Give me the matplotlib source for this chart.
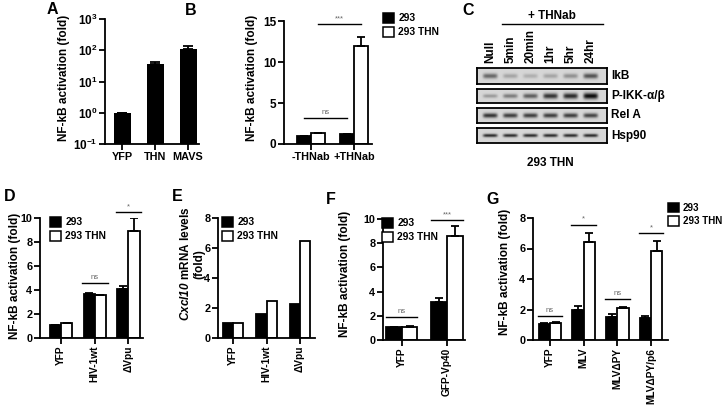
import numpy as np
import matplotlib
import matplotlib.pyplot as plt
from matplotlib.patches import Patch
from matplotlib.lines import Line2D

# ---------------------------------------------------------------------
# Data
# ---------------------------------------------------------------------

W, H = 725, 405

a_labels = ["YFP", "THN", "MAVS"]
a_values = [1.0, 36, 110]
a_err = [0, 6, 30]

b_groups = ["-THNab", "+THNab"]
b_293 = [1.0, 1.2]
b_thn = [1.3, 12.0]
b_293_err = [0, 0]
b_thn_err = [0, 1.0]
b_sig_series = ["293", "THN"]
b_sig_y = [3.2, 14.6]
b_sig_text = ["ns", "***"]

c_lanes = ["Null", "5min", "20min", "1hr", "5hr", "24hr"]
c_rows = ["IkB", "P-IKK-α/β", "Rel A", "Hsp90"]
c_ikb = [0.55, 0.25, 0.2, 0.25, 0.35, 0.65]
c_pikk = [0.3, 0.45, 0.6, 0.8, 0.85, 1.0]
c_rela = [0.8, 0.75, 0.75, 0.75, 0.75, 0.72]
c_hsp90 = [0.85, 0.85, 0.85, 0.85, 0.85, 0.85]

d_labels = ["YFP", "HIV-1wt", "ΔVpu"]
d_293 = [1.05, 3.65, 4.1]
d_293_err = [0.05, 0.07, 0.25]
d_thn = [1.25, 3.55, 8.9]
d_thn_err = [0.03, 0.05, 1.1]
d_sig_groups = [1, 2]
d_sig_y = [4.6, 10.5]
d_sig_text = ["ns", "*"]

e_labels = ["YFP", "HIV-1wt", "ΔVpu"]
e_293 = [1.0, 1.6, 2.25]
e_thn = [1.0, 2.45, 6.5]

f_labels = ["YFP", "GFP-Vp40"]
f_293 = [1.05, 3.15]
f_293_err = [0.03, 0.3]
f_thn = [1.1, 8.6]
f_thn_err = [0.05, 0.8]
f_sig_groups = [0, 1]
f_sig_y = [1.9, 9.9]
f_sig_text = ["ns", "***"]

g_labels = ["YFP", "MLV", "MLVΔPY", "MLVΔPY/p6"]
g_293 = [1.05, 2.0, 1.5, 1.45]
g_293_err = [0.05, 0.25, 0.2, 0.15]
g_thn = [1.1, 6.45, 2.1, 5.85]
g_thn_err = [0.07, 0.55, 0.07, 0.65]
g_sig_groups = [0, 1, 2, 3]
g_sig_y = [1.6, 7.55, 2.7, 7.0]
g_sig_text = ["ns", "*", "ns", "*"]

# ---------------------------------------------------------------------
# Style
# ---------------------------------------------------------------------

plt.rcParams["font.family"] = ["Liberation Sans", "DejaVu Sans"]
plt.rcParams["font.weight"] = "bold"
plt.rcParams["axes.labelweight"] = "bold"
plt.rcParams["mathtext.fontset"] = "custom"
plt.rcParams["mathtext.rm"] = "Liberation Sans"
plt.rcParams["mathtext.bf"] = "Liberation Sans:bold"
plt.rcParams["mathtext.it"] = "Liberation Sans:italic"
plt.rcParams["mathtext.bfit"] = "Liberation Sans:italic:bold"

LW = 1.3
FS = 8.5        # axis labels
FS_TICK = 7.8
FS_ROT = 7.3    # rotated category labels
FS_LEG = 7.4


# ---------------------------------------------------------------------
# Helpers
# ---------------------------------------------------------------------

def px_axes(fig, left, top, right, bottom):
    return fig.add_axes([left / W, 1 - bottom / H, (right - left) / W, (bottom - top) / H])


def fxy(x, y):
    return x / W, 1 - y / H


def style_axes(ax):
    for s in ["top", "right"]:
        ax.spines[s].set_visible(False)
    for s in ["left", "bottom"]:
        ax.spines[s].set_linewidth(LW)
    ax.tick_params(direction="out", length=4, width=LW, labelsize=FS_TICK, pad=1.5)


def grouped_bars(ax, v293, vthn, width, e293=None, ethn=None):
    n = len(v293)
    x = np.arange(n)
    ax.bar(x - width / 2, v293, width, color="black", edgecolor="black", linewidth=LW, zorder=2)
    ax.bar(x + width / 2, vthn, width, color="white", edgecolor="black", linewidth=LW, zorder=2)
    for xs, vals, err in [(x - width / 2, v293, e293), (x + width / 2, vthn, ethn)]:
        if err is None:
            continue
        ax.errorbar(xs, vals, yerr=[np.zeros(n), err], fmt="none", ecolor="black",
                    elinewidth=LW, capsize=3, capthick=LW, zorder=3)


def sig_mark(ax, x0, x1, y, text):
    ax.plot([x0, x1], [y, y], color="black", lw=1.0, clip_on=False, zorder=4)
    ax.annotate(text, ((x0 + x1) / 2, y), xytext=(0, 1.5), textcoords="offset points",
                ha="center", va="bottom", fontsize=5.5, color="#666666",
                fontweight="normal", annotation_clip=False)


def add_legend(ax, fig, x, y, fs=FS_LEG):
    handles = [Patch(facecolor="black", edgecolor="black", linewidth=1.1),
               Patch(facecolor="white", edgecolor="black", linewidth=1.1)]
    ax.legend(handles, ["293", "293 THN"], loc="upper left", bbox_to_anchor=fxy(x, y),
              bbox_transform=fig.transFigure, frameon=False, fontsize=fs,
              handlelength=1.1, handleheight=1.1, handletextpad=0.4,
              labelspacing=0.35, borderpad=0, borderaxespad=0)


def ylabel(fig, x, y, text, **kw):
    fig.text(*fxy(x, y), text, rotation=90, ha="center", va="center",
             fontsize=FS, fontweight="bold", **kw)


def letter(fig, x, y, text):
    fig.text(*fxy(x, y), text, ha="left", va="top", fontsize=11.5, fontweight="bold")


def blot_strip(ax, intensities, base, grow):
    xs = np.linspace(-0.65, 5.8, 300)
    ys = np.linspace(0, 1, 40)
    X, Y = np.meshgrid(xs, ys)
    img = np.full(X.shape, 0.84)
    for i, v in enumerate(intensities):
        thick = base + grow * v
        band = np.exp(-((X - i) / 0.36) ** 6) * np.exp(-((Y - 0.5) / thick) ** 2)
        img -= 0.8 * v * band
    ax.imshow(np.clip(img, 0, 1), cmap="gray", vmin=0, vmax=1, extent=(-0.65, 5.8, 1, 0),
              aspect="auto", interpolation="bilinear")
    ax.set_xlim(-0.65, 5.8)
    ax.set_ylim(1, 0)
    ax.set_xticks([])
    ax.set_yticks([])
    for s in ax.spines.values():
        s.set_linewidth(LW)


# ---------------------------------------------------------------------
# Figure
# ---------------------------------------------------------------------

fig = plt.figure(figsize=(W / 100, H / 100), dpi=100)

# --- A ---
ax = px_axes(fig, 105, 19, 199, 144)
style_axes(ax)
ax.set_yscale("log")
ax.bar(np.arange(3), a_values, 0.52, color="black", zorder=2)
ax.errorbar(np.arange(3), a_values, yerr=[np.zeros(3), a_err], fmt="none", ecolor="black",
            elinewidth=LW, capsize=3.5, capthick=LW, zorder=3)
ax.set_ylim(0.1, 1000)
ax.set_xlim(-0.52, 2.33)
ax.set_yticks([0.1, 1, 10, 100, 1000])
ax.set_yticklabels([r"$\mathbf{10^{-1}}$", r"$\mathbf{10^{0}}$", r"$\mathbf{10^{1}}$",
                    r"$\mathbf{10^{2}}$", r"$\mathbf{10^{3}}$"], fontsize=8.5)
ax.yaxis.set_minor_locator(matplotlib.ticker.NullLocator())
ax.set_xticks(np.arange(3))
ax.set_xticklabels(a_labels)
letter(fig, 47, 2, "A")
ylabel(fig, 64, 78, "NF-kB activation (fold)")

# --- B ---
wb = 0.326
ax = px_axes(fig, 284, 21, 372, 144)
style_axes(ax)
grouped_bars(ax, b_293, b_thn, wb, b_293_err, b_thn_err)
ax.set_ylim(0, 15)
ax.set_xlim(-0.63, 1.42)
ax.set_yticks([0, 5, 10, 15])
ax.set_yticklabels(["0", "5", "10", "15"], fontsize=8.5)
ax.set_xticks(np.arange(2))
ax.set_xticklabels(b_groups)
for series, y, t in zip(b_sig_series, b_sig_y, b_sig_text):
    off = -wb / 2 if series == "293" else wb / 2
    sig_mark(ax, 0 + off, 1 + off, y, t)
add_legend(ax, fig, 383, 13)
letter(fig, 185, 3, "B")
ylabel(fig, 252, 78, "NF-kB activation (fold)")

# --- C ---
strips = [(68, 84, c_ikb, 0.13, 0.05), (89, 103, c_pikk, 0.1, 0.12),
          (108, 123, c_rela, 0.14, 0.02), (128, 143, c_hsp90, 0.11, 0.0)]
blot_axes = []
for top, bottom, vals, base, grow in strips:
    bax = px_axes(fig, 477, top, 607, bottom)
    blot_strip(bax, vals, base, grow)
    blot_axes.append(bax)
top_ax = blot_axes[0]
lane_tr = matplotlib.transforms.blended_transform_factory(top_ax.transData, top_ax.transAxes)
for i, lab in enumerate(c_lanes):
    top_ax.text(i, 1.3, lab, rotation=90, ha="center", va="bottom", fontsize=FS,
                fontweight="bold", transform=lane_tr)
for bax, name in zip(blot_axes, c_rows):
    bax.text(1.0 + 4 / 130, 0.5, name, transform=bax.transAxes, ha="left", va="center",
             fontsize=FS, fontweight="bold", clip_on=False)
fig.text(*fxy(552, 16), "+ THNab", ha="center", va="center", fontsize=FS, fontweight="bold")
fig.add_artist(Line2D([502 / W, 603 / W], [1 - 24 / H, 1 - 24 / H], color="black", lw=1.0))
fig.text(*fxy(550, 163), "293 THN", ha="center", va="center", fontsize=FS, fontweight="bold")
letter(fig, 462, 3, "C")

# --- D ---
wd = 0.33
ax = px_axes(fig, 40, 218, 143, 338)
style_axes(ax)
grouped_bars(ax, d_293, d_thn, wd, d_293_err, d_thn_err)
ax.set_ylim(0, 10)
ax.set_xlim(-0.62, 2.43)
ax.set_yticks(np.arange(0, 11, 2))
ax.set_xticks(np.arange(3))
ax.set_xticklabels(d_labels, rotation=90, fontsize=FS_ROT)
for g, y, t in zip(d_sig_groups, d_sig_y, d_sig_text):
    sig_mark(ax, g - wd - 0.05, g + wd + 0.05, y, t)
add_legend(ax, fig, 50, 217)
letter(fig, 4, 189, "D")
ylabel(fig, 15, 276, "NF-kB activation (fold)")

# --- E ---
we = 0.31
ax = px_axes(fig, 218, 218, 315, 338)
style_axes(ax)
grouped_bars(ax, e_293, e_thn, we)
ax.set_ylim(0, 8)
ax.set_xlim(-0.45, 2.45)
ax.set_yticks(np.arange(0, 9, 2))
ax.set_xticks(np.arange(3))
ax.set_xticklabels(e_labels, rotation=90, fontsize=FS_ROT)
add_legend(ax, fig, 222, 217)
letter(fig, 172, 189, "E")
ylabel(fig, 192, 264, r"$\mathbfit{Cxcl10}$ mRNA levels" + "\n(fold)", linespacing=1.2)

# --- F ---
wf = 0.345
ax = px_axes(fig, 383, 219, 465, 340)
style_axes(ax)
grouped_bars(ax, f_293, f_thn, wf, f_293_err, f_thn_err)
ax.set_ylim(0, 10)
ax.set_xlim(-0.42, 1.4)
ax.set_yticks(np.arange(0, 11, 2))
ax.set_xticks(np.arange(2))
ax.set_xticklabels(f_labels, rotation=90, fontsize=FS_ROT)
for g, y, t in zip(f_sig_groups, f_sig_y, f_sig_text):
    sig_mark(ax, g - wf, g + wf, y, t)
add_legend(ax, fig, 382, 218)
letter(fig, 326, 192, "F")
ylabel(fig, 345, 274, "NF-kB activation (fold)")

# --- G ---
wg = 0.335
ax = px_axes(fig, 533, 218, 668, 340)
style_axes(ax)
grouped_bars(ax, g_293, g_thn, wg, g_293_err, g_thn_err)
ax.set_ylim(0, 8)
ax.set_xlim(-0.5, 3.5)
ax.set_yticks(np.arange(0, 9, 2))
ax.set_xticks(np.arange(4))
ax.set_xticklabels(g_labels, rotation=90, fontsize=FS_ROT)
for g, y, t in zip(g_sig_groups, g_sig_y, g_sig_text):
    sig_mark(ax, g - wg - 0.03, g + wg + 0.03, y, t)
add_legend(ax, fig, 668, 203, fs=7.0)
letter(fig, 486, 192, "G")
ylabel(fig, 505, 272, "NF-kB activation (fold)")

fig.savefig("out.png", dpi=100)
